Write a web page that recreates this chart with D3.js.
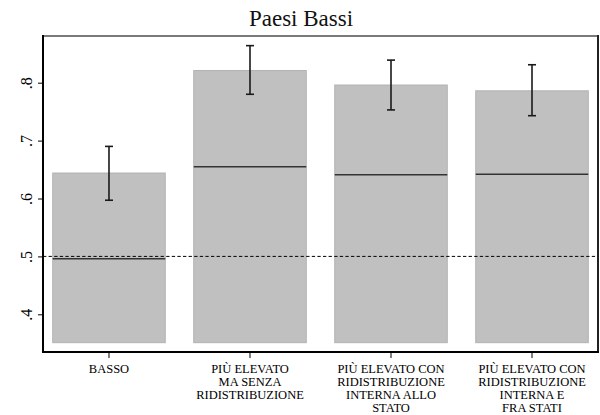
<!DOCTYPE html>
<html>
<head>
<meta charset="utf-8">
<script src="https://cdn.jsdelivr.net/npm/d3@7"></script>
<style>
  html, body { margin: 0; padding: 0; background: #fff; }
  svg { display: block; }
</style>
</head>
<body>
<svg id="chart" width="600" height="415"></svg>
<script>
// Category labels, one entry per line of text
const categories = [
  ["BASSO"],
  ["PIÙ ELEVATO", "MA SENZA", "RIDISTRIBUZIONE"],
  ["PIÙ ELEVATO CON", "RIDISTRIBUZIONE", "INTERNA ALLO", "STATO"],
  ["PIÙ ELEVATO CON", "RIDISTRIBUZIONE", "INTERNA E", "FRA STATI"]
];
// Bar heights (means), confidence interval bounds and inner reference line
const means = [0.644, 0.821, 0.796, 0.786];
const ciLow = [0.597, 0.780, 0.753, 0.743];
const ciHigh = [0.690, 0.864, 0.839, 0.831];
const innerLine = [0.496, 0.655, 0.641, 0.642];
const yTicks = [0.4, 0.5, 0.6, 0.7, 0.8];
const refValue = 0.5;
const barBase = 0.351;
const title = "Paesi Bassi";

const serifFont = '"Liberation Serif"';
const svg = d3.select("#chart");
const plot = { left: 43, right: 598, top: 36, bottom: 352 };

const x = d3.scaleBand()
  .domain(d3.range(categories.length))
  .range([plot.left, plot.right])
  .paddingInner(0.202)
  .paddingOuter(0.069);

const y = d3.scaleLinear()
  .domain([0.4, 0.8])
  .range([314.3, 82.7]);

// Title
svg.append("text")
  .attr("x", 301).attr("y", 26)
  .attr("text-anchor", "middle")
  .style("font-family", serifFont)
  .style("font-size", "23px")
  .attr("fill", "#111")
  .text(title);

// Bars
svg.append("g").selectAll("rect")
  .data(means)
  .join("rect")
  .attr("x", (d, i) => x(i))
  .attr("width", x.bandwidth())
  .attr("y", d => y(d))
  .attr("height", d => y(barBase) - y(d))
  .attr("fill", "#c0c0c0")
  .attr("stroke", "#b2b2b2")
  .attr("stroke-width", 1);

// Inner horizontal line within each bar
svg.append("g").selectAll("line")
  .data(innerLine)
  .join("line")
  .attr("x1", (d, i) => x(i))
  .attr("x2", (d, i) => x(i) + x.bandwidth())
  .attr("y1", d => y(d))
  .attr("y2", d => y(d))
  .attr("stroke", "#333")
  .attr("stroke-width", 1.5);

// Reference line at 0.5
svg.append("line")
  .attr("x1", plot.left).attr("x2", plot.right)
  .attr("y1", y(refValue)).attr("y2", y(refValue))
  .attr("stroke", "#000")
  .attr("stroke-width", 1)
  .attr("stroke-dasharray", "3.3,2.3");

// Error bars
const eb = svg.append("g").attr("stroke", "#1a1a1a").attr("stroke-width", 1.6);
ciLow.forEach((lo, i) => {
  const cx = x(i) + x.bandwidth() / 2;
  const hi = ciHigh[i];
  eb.append("line").attr("x1", cx).attr("x2", cx).attr("y1", y(lo)).attr("y2", y(hi));
  eb.append("line").attr("x1", cx - 4).attr("x2", cx + 4).attr("y1", y(lo)).attr("y2", y(lo));
  eb.append("line").attr("x1", cx - 4).attr("x2", cx + 4).attr("y1", y(hi)).attr("y2", y(hi));
});

// Frame: grey top, dark right, black axes left and bottom
svg.append("line").attr("x1", plot.left).attr("x2", plot.right)
  .attr("y1", plot.top).attr("y2", plot.top)
  .attr("stroke", "#7a7a7a").attr("stroke-width", 2);
svg.append("line").attr("x1", plot.right).attr("x2", plot.right)
  .attr("y1", plot.top - 1).attr("y2", plot.bottom + 1)
  .attr("stroke", "#222").attr("stroke-width", 2);

// Y axis
const yAxis = svg.append("g")
  .attr("transform", `translate(${plot.left},0)`)
  .call(d3.axisLeft(y).tickValues(yTicks).tickSize(5).tickFormat(d => d3.format(".1f")(d).replace(/^0/, "")));
yAxis.attr("font-family", null).attr("font-size", null);
yAxis.select(".domain").remove();
yAxis.selectAll(".tick line").attr("stroke", "#000").attr("stroke-width", 1);
yAxis.selectAll(".tick text")
  .style("font-family", serifFont)
  .style("font-size", "16px")
  .attr("fill", "#000")
  .attr("text-anchor", "middle")
  .attr("dy", 0)
  .attr("x", 0)
  .attr("transform", "translate(-11,0) rotate(-90)");
svg.append("line").attr("x1", plot.left).attr("x2", plot.left)
  .attr("y1", plot.top - 1).attr("y2", plot.bottom + 1)
  .attr("stroke", "#000").attr("stroke-width", 2);

// X axis
const xAxis = svg.append("g")
  .attr("transform", `translate(0,${plot.bottom})`)
  .call(d3.axisBottom(x).tickSize(6).tickFormat(""));
xAxis.select(".domain").remove();
xAxis.selectAll(".tick line").attr("stroke", "#000").attr("stroke-width", 1);
svg.append("line").attr("x1", plot.left - 1).attr("x2", plot.right + 1)
  .attr("y1", plot.bottom).attr("y2", plot.bottom)
  .attr("stroke", "#000").attr("stroke-width", 2);

// Multi-line category labels
const labels = svg.append("g");
categories.forEach((lines, i) => {
  lines.forEach((ln, j) => {
    labels.append("text")
      .attr("x", x(i) + x.bandwidth() / 2)
      .attr("y", 372.5 + j * 13.1)
      .attr("text-anchor", "middle")
      .style("font-family", serifFont)
      .style("font-size", "12.5px")
      .attr("fill", "#000")
      .text(ln);
  });
});
</script>
</body>
</html>
